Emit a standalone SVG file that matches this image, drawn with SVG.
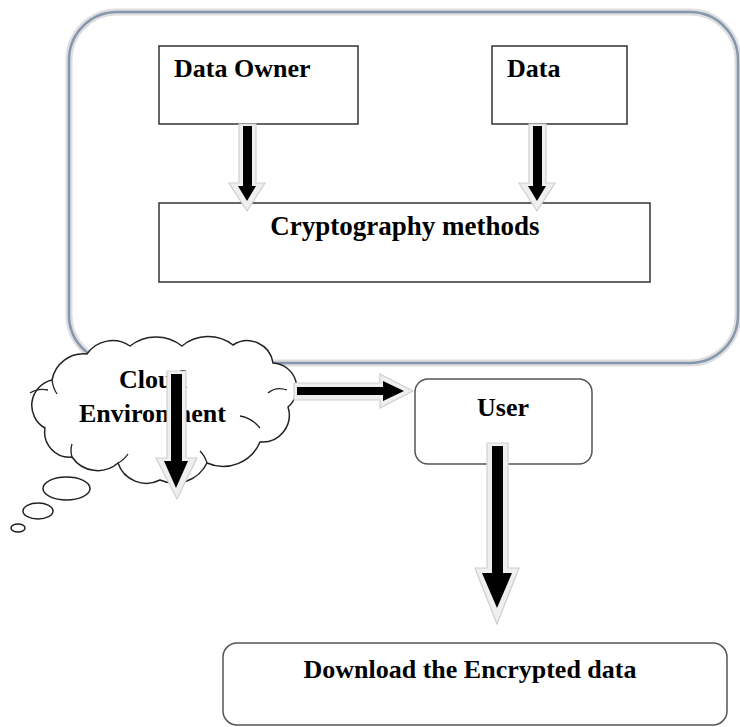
<svg xmlns="http://www.w3.org/2000/svg" width="740" height="727" viewBox="0 0 740 727">
<defs>
<style>
.lbl{font-family:"Liberation Serif","Times New Roman",serif;font-weight:bold;font-size:26px;fill:#000}
.box{fill:#fff;stroke:#333;stroke-width:1.5}
.rbox{fill:#fff;stroke:#555;stroke-width:1.5}
.halo{fill:#efefef;stroke:#cfcfcf;stroke-width:1.2;stroke-linejoin:miter}
.blk{fill:#000}
.cl{fill:#fff;stroke:#222;stroke-width:1.5}
.cli{fill:none;stroke:#222;stroke-width:1.3}
</style>
</defs>
<rect width="740" height="727" fill="#fff"/>
<g id="container">
<rect x="69" y="12" width="669" height="351" rx="48" fill="#fff" stroke="#dedede" stroke-width="7"/>
<rect x="69" y="12" width="669" height="351" rx="48" fill="none" stroke="#8597ae" stroke-width="2.5"/>
</g>
<g id="data-owner">
<rect class="box" x="159" y="46" width="199" height="78"/>
<text class="lbl" x="174" y="77">Data Owner</text>
</g>
<g id="data">
<rect class="box" x="492" y="46" width="135" height="78"/>
<text class="lbl" x="507" y="77">Data</text>
</g>
<g id="crypto">
<rect class="box" x="159" y="203" width="491" height="79"/>
<text class="lbl" x="405" y="235" text-anchor="middle" style="font-size:27px">Cryptography methods</text>
</g>
<g id="cloud">
<path class="cl" d="M45,428 A26,26 0 0 1 52,380 A32,32 0 0 1 87,354 A31,31 0 0 1 130,346 A42,42 0 0 1 182,346 A41,41 0 0 1 233,345 A26,26 0 0 1 273,363 A25,25 0 0 1 288,407 A27,27 0 0 1 260,442 A40,40 0 0 1 207,463 A36,36 0 0 1 160,480 A30,30 0 0 1 118,463 A31,31 0 0 1 72,457 A25,25 0 0 1 45,428 Z"/>
<path class="cli" d="M30,393 Q38,388 48,390"/>
<path class="cli" d="M52,380 Q53,388 57,394"/>
<path class="cli" d="M268,393 Q276,386 287,390"/>
<path class="cli" d="M240,416 Q252,418 260,428"/>
<path class="cli" d="M207,463 Q205,456 200,451"/>
<path class="cli" d="M118,463 Q124,460 128,454"/>
<path class="cli" d="M72,457 Q70,450 72,444"/>
<ellipse class="cl" cx="66.5" cy="488.5" rx="23.5" ry="11.5"/>
<ellipse class="cl" cx="38" cy="511" rx="15" ry="8"/>
<ellipse class="cl" cx="18" cy="528" rx="7" ry="4"/>
<text class="lbl" x="119" y="388">Cloud</text>
<text class="lbl" x="79" y="422">Environment</text>
</g>
<g id="user">
<rect class="rbox" x="415" y="379" width="177" height="85" rx="13"/>
<text class="lbl" x="503" y="416" text-anchor="middle">User</text>
</g>
<g id="download">
<rect class="rbox" x="223" y="643" width="504" height="82" rx="14"/>
<text class="lbl" x="470" y="678" text-anchor="middle">Download the Encrypted data</text>
</g>
<g id="connectors">
<path class="halo" d="M239,124 H256 V183 H265 L247,211 L229,183 H239 Z"/>
<path class="blk" d="M243,126 H252 V186 H256 L247,201 L238,186 H243 Z"/>
<path class="halo" d="M529,124 H546 V183 H555 L537,211 L519,183 H529 Z"/>
<path class="blk" d="M533,126 H542 V186 H546 L537,201 L528,186 H533 Z"/>
<path class="halo" d="M167,371 H186 V458 H197 L177,499 L156,458 H167 Z"/>
<path class="blk" d="M171,374 H182 V461 H188 L176,488 L164,461 H171 Z"/>
<path class="halo" d="M294,383 H380 V374 L413,391 L380,408 V400 H294 Z"/>
<path class="blk" d="M297,387 H383 V381 L404,391 L383,401 V395 H297 Z"/>
<path class="halo" d="M487,443 H508 V568 H519 L497,624 L475,568 H487 Z"/>
<path class="blk" d="M492,446 H503 V573 H512 L497,608 L482,573 H492 Z"/>
</g>
</svg>
